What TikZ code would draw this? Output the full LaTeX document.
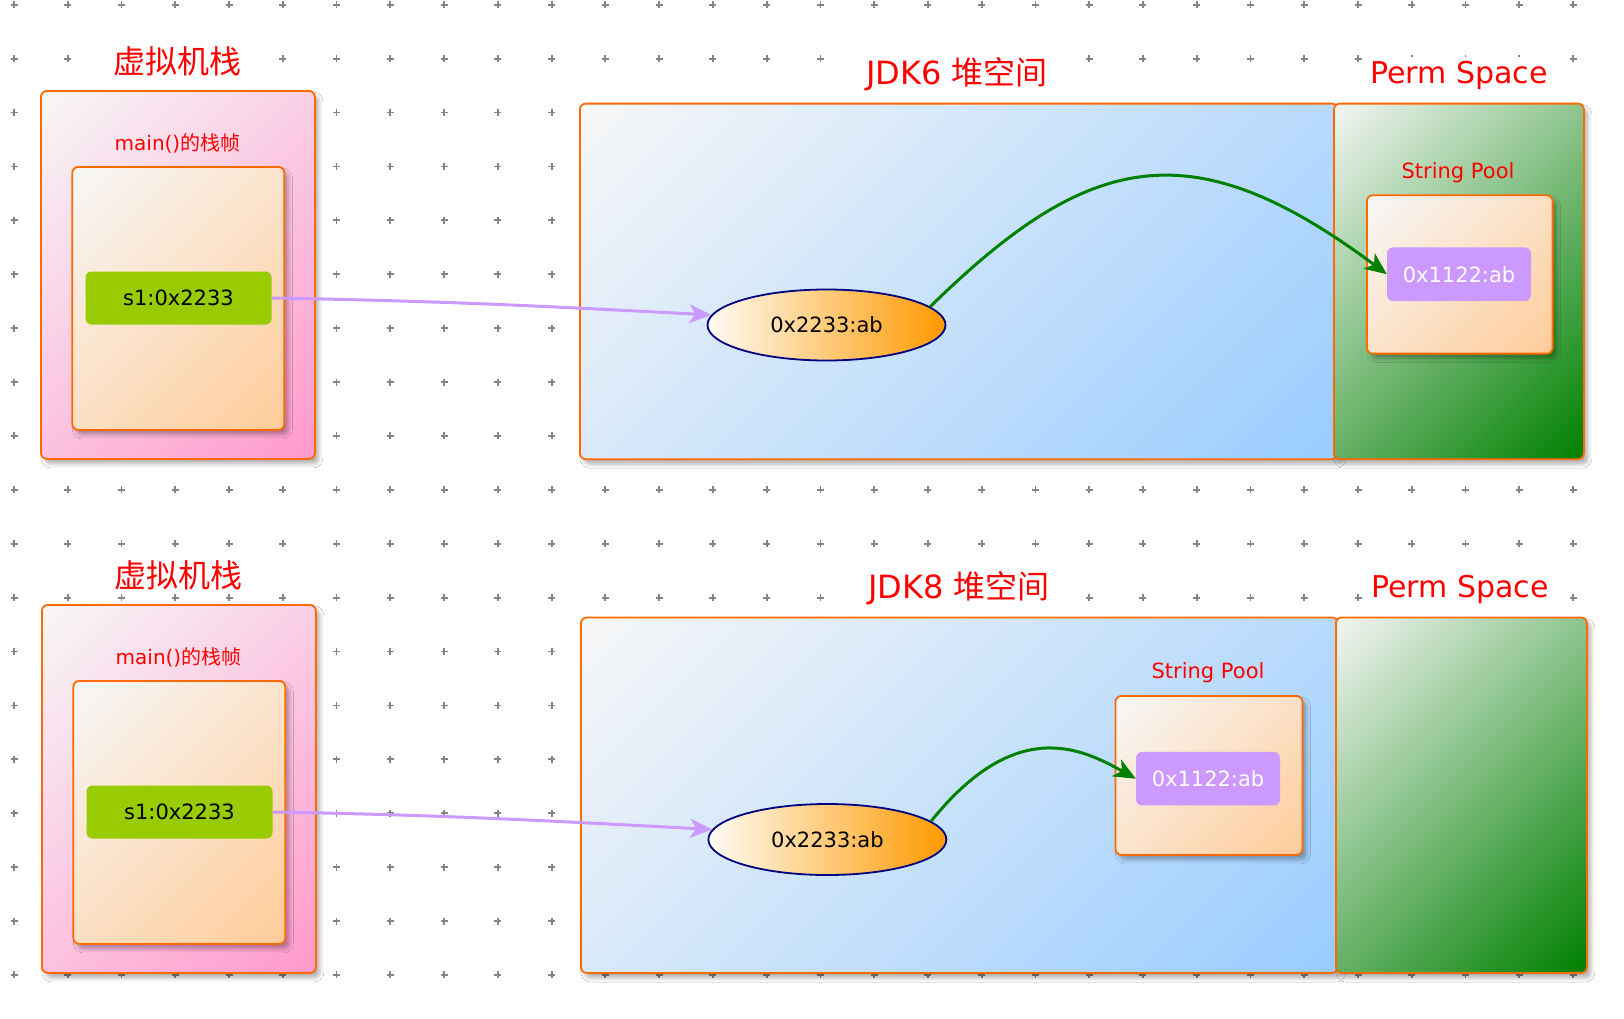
\documentclass[tikz,border=0pt]{standalone}
\usepackage{fontspec}
\setmainfont{DejaVu Sans}
\newfontfamily\cjk{Noto Sans CJK SC}
\usetikzlibrary{arrows.meta,shapes.geometric,shadows.blur}
\definecolor{bord}{HTML}{FF6A00}
\definecolor{lightC}{HTML}{F7F7F7}
\definecolor{pinkD}{HTML}{FF99CC}
\definecolor{peachD}{HTML}{FFCC99}
\definecolor{blueD}{HTML}{99CCFF}
\definecolor{permL}{HTML}{F2F5F2}
\definecolor{greenD}{HTML}{008000}
\definecolor{lime}{HTML}{99CC00}
\definecolor{lav}{HTML}{CC99FF}
\definecolor{navyB}{HTML}{000080}
\definecolor{orng}{HTML}{FF9900}
\definecolor{cream}{HTML}{FFFCF4}
\definecolor{dotc}{HTML}{858585}
\pgfdeclarehorizontalshading{pinkS}{100bp}{color(0bp)=(lightC); color(14.6bp)=(lightC); color(85.4bp)=(pinkD); color(100bp)=(pinkD)}
\pgfdeclarehorizontalshading{peachS}{100bp}{color(0bp)=(lightC); color(14.6bp)=(lightC); color(85.4bp)=(peachD); color(100bp)=(peachD)}
\pgfdeclarehorizontalshading{blueS}{100bp}{color(0bp)=(lightC); color(14.6bp)=(lightC); color(85.4bp)=(blueD); color(100bp)=(blueD)}
\pgfdeclarehorizontalshading{greenS}{100bp}{color(0bp)=(permL); color(14.6bp)=(permL); color(85.4bp)=(greenD); color(100bp)=(greenD)}
\newcommand\pxfont[1]{\fontsize{#1}{#1}\selectfont}
\begin{document}
\begin{tikzpicture}[x=1pt,y=-1pt,
  box/.style={draw=bord, line width=1.8pt, rounded corners=6pt, inner sep=0pt, anchor=north west,
    blur shadow={shadow xshift=4pt, shadow yshift=-5pt, shadow blur radius=4pt, shadow opacity=30}},
  grad/.style={shading=#1, shading angle=-45},
  ttl/.style={text=red, fill=white, inner sep=4pt},
  lbl/.style={text=red, inner sep=2pt},
  gbox/.style={fill=lime, rounded corners=6pt, inner sep=0pt, minimum width=186pt, minimum height=53pt, text=black},
  pbox/.style={fill=lav, rounded corners=6pt, inner sep=0pt, minimum width=144pt, minimum height=53.5pt, text=white},
  ell/.style={ellipse, draw=navyB, line width=1.8pt, inner sep=0pt, minimum width=238pt, minimum height=71pt, left color=cream, right color=orng},
  parrow/.style={draw=lav, line width=3pt, -{Stealth[length=22pt,width=19pt,inset=6pt]}},
  garrow/.style={draw=greenD, line width=3pt, -{Stealth[length=22pt,width=19pt,inset=6pt]}}
]
\useasboundingbox (0,0) rectangle (1624,1018);
\fill[white] (0,0) rectangle (1624,1018);
% dot grid
\foreach \i in {0,...,29} {
  \foreach \j in {0,...,18} {
    \draw[dotc, line width=1.8pt] (14+53.76*\i-3.5, 4.7+53.9*\j) -- ++(7,0)
      (14+53.76*\i, 4.7+53.9*\j-3.5) -- ++(0,7);
  }
}
% ===== top section (JDK6) =====
\node[ttl] (vmt1) at (177.5,61.7) {\pxfont{32}\cjk 虚拟机栈};
\node[box, grad=pinkS, minimum width=274pt, minimum height=368pt] (vm1) at (40,90) {};
\node[lbl] (ft1) at (177.5,143.3) {\pxfont{20}main(){\cjk 的栈帧}};
\node[box, grad=peachS, minimum width=212pt, minimum height=263pt] (fr1) at (71.4,166) {};
\node[gbox] (s1a) at (178.5,298) {\pxfont{21}s1:0x2233};
\node[ttl] (ht1) at (957,74) {\pxfont{32}JDK6 {\cjk 堆空间}};
\node[box, grad=blueS, minimum width=758pt, minimum height=355.6pt] (heap1) at (579,102.7) {};
\node[ttl] (pt1) at (1459,75.5) {\pxfont{30}Perm Space};
\node[box, grad=greenS, minimum width=250pt, minimum height=355.6pt] (perm1) at (1333,102.7) {};
\node[lbl] (sp1) at (1458,172.7) {\pxfont{21}String Pool};
\node[box, grad=peachS, minimum width=185.7pt, minimum height=158.4pt] (pool1) at (1366,194.3) {};
\node[pbox] (p1) at (1459,274.2) {\pxfont{21}0x1122:ab};
\node[ell] (e1) at (826.5,325) {\pxfont{21}0x2233:ab};
\draw[parrow] (s1a.east) to[out=-1,in=177] (e1.175);
\draw[garrow] (e1.10) .. controls (1088,152) and (1191,128) .. (p1.west);
% ===== bottom section (JDK8) =====
\node[ttl] (vmt2) at (178.5,575.7) {\pxfont{32}\cjk 虚拟机栈};
\node[box, grad=pinkS, minimum width=274pt, minimum height=368pt] (vm2) at (41,604) {};
\node[lbl] (ft2) at (178.5,657.3) {\pxfont{20}main(){\cjk 的栈帧}};
\node[box, grad=peachS, minimum width=212pt, minimum height=263pt] (fr2) at (72.4,680) {};
\node[gbox] (s1b) at (179.5,812) {\pxfont{21}s1:0x2233};
\node[ttl] (ht2) at (959,588) {\pxfont{32}JDK8 {\cjk 堆空间}};
\node[box, grad=blueS, minimum width=757pt, minimum height=355.6pt] (heap2) at (580,616.5) {};
\node[ttl] (pt2) at (1460,589.5) {\pxfont{30}Perm Space};
\node[box, grad=greenS, minimum width=251pt, minimum height=355.6pt] (perm2) at (1335,616.5) {};
\node[lbl] (sp2) at (1208,672.7) {\pxfont{21}String Pool};
\node[box, grad=peachS, minimum width=187pt, minimum height=159pt] (pool2) at (1114.5,695) {};
\node[pbox] (p2) at (1208,778.7) {\pxfont{21}0x1122:ab};
\node[ell] (e2) at (827.4,839.5) {\pxfont{21}0x2233:ab};
\draw[parrow] (s1b.east) to[out=-1,in=177] (e2.175);
\draw[garrow] (e2.10) .. controls (1016,715.6) and (1082,748.6) .. (p2.west);
\end{tikzpicture}
\end{document}
